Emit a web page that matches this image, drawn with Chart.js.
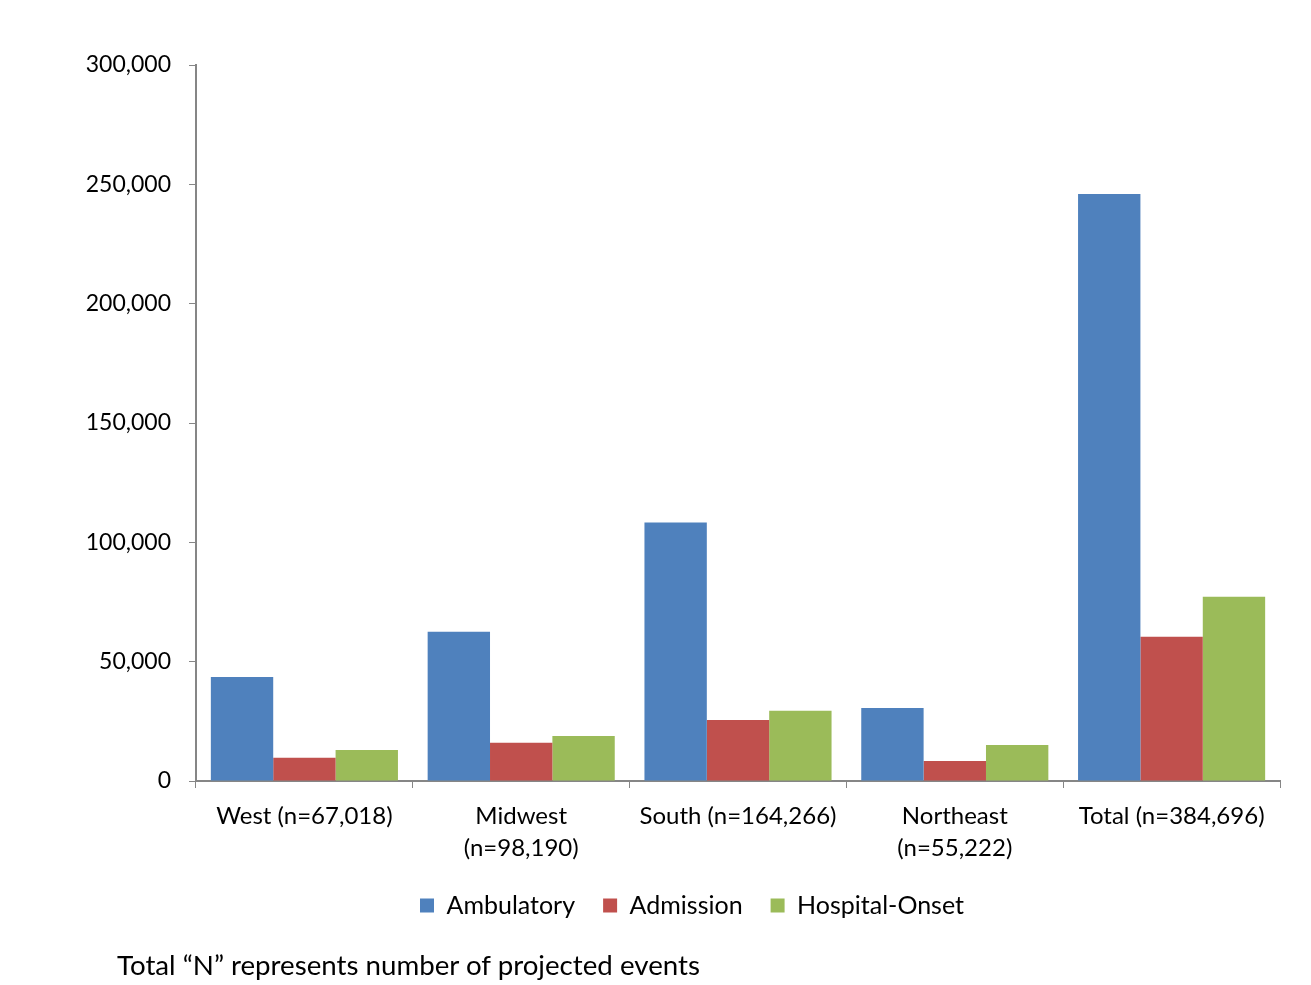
<!DOCTYPE html>
<html>
<head>
<meta charset="utf-8">
<script src="https://cdn.jsdelivr.net/npm/chart.js@4"></script>
<style>
  body { margin: 0; background: #fff; }
  #wrap { position: relative; width: 1311px; height: 985px; }
  #note { position: absolute; left: 117px; top: 949px; font: 27.7px/32px Lato, sans-serif; color: #000; }
</style>
</head>
<body>
<div id="wrap">
  <canvas id="barChart" width="1311" height="985"></canvas>
  <div id="note">Total “N” represents number of projected events</div>
</div>
<script>
var regions = ["West (n=67,018)", ["Midwest", "(n=98,190)"], "South (n=164,266)", ["Northeast", "(n=55,222)"], "Total (n=384,696)"];
var ambulatory = [43600, 62500, 108300, 30600, 245900];
var admission = [9700, 16000, 25600, 8400, 60400];
var hospitalOnset = [13000, 18900, 29400, 15100, 77200];
var yTicks = [0, 50000, 100000, 150000, 200000, 250000, 300000];

// the legend in the original sits a bit right of centre
var shiftLegend = {
  id: "shiftLegend",
  afterUpdate: function (chart) {
    chart.legend.left += 52;
    chart.legend.right += 52;
  }
};

window.onload = function () {
  var ctx = document.getElementById("barChart").getContext("2d");
  new Chart(ctx, {
    type: "bar",
    data: {
      labels: regions,
      datasets: [
        { label: "Ambulatory", data: ambulatory, backgroundColor: "#4F81BD" },
        { label: "Admission", data: admission, backgroundColor: "#C0504D" },
        { label: "Hospital-Onset", data: hospitalOnset, backgroundColor: "#9BBB59" }
      ]
    },
    plugins: [shiftLegend],
    options: {
      responsive: false,
      animation: false,
      layout: { padding: { top: 65, right: 31, bottom: 57, left: 0 } },
      datasets: { bar: { categoryPercentage: 0.863, barPercentage: 1.0 } },
      plugins: {
        legend: {
          position: "bottom",
          labels: {
            font: { family: "Lato, sans-serif", size: 25 },
            color: "#000",
            boxWidth: 14,
            boxHeight: 14,
            padding: 28
          }
        },
        tooltip: { enabled: false }
      },
      scales: {
        x: {
          grid: { drawOnChartArea: false, drawTicks: true, tickLength: 7, color: "#868686" },
          border: { color: "#868686", width: 2 },
          ticks: {
            font: { family: "Lato, sans-serif", size: 24, lineHeight: 1.35 },
            color: "#000",
            padding: 12,
            maxRotation: 0,
            autoSkip: false
          },
          afterFit: function (scale) { scale.height = 84; }
        },
        y: {
          min: 0,
          max: 300000,
          afterBuildTicks: function (scale) {
            scale.ticks = yTicks.map(function (v) { return { value: v }; });
          },
          grid: { drawOnChartArea: false, drawTicks: true, tickLength: 7, color: "#868686" },
          border: { color: "#868686", width: 2 },
          ticks: {
            font: { family: "Lato, sans-serif", size: 23 },
            color: "#000",
            padding: 18,
            callback: function (v) { return v.toLocaleString("en-US"); }
          },
          afterFit: function (scale) { scale.width = 196; }
        }
      }
    }
  });
};
</script>
</body>
</html>
